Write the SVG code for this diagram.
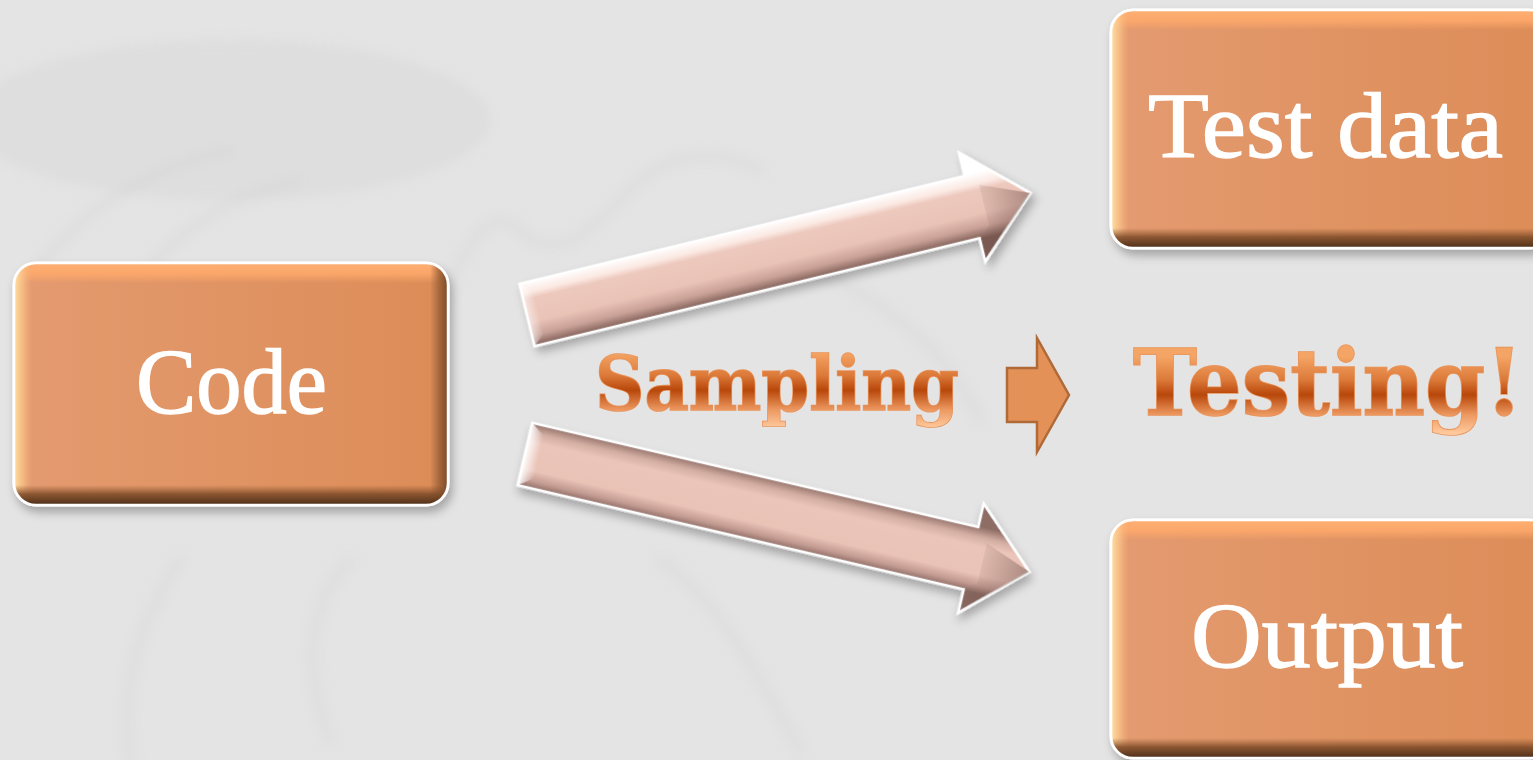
<svg xmlns="http://www.w3.org/2000/svg" width="1533" height="760" viewBox="0 0 1533 760">
  <style>
    .box-face { fill: url(#faceGrad); stroke: #ffffff; stroke-width: 3; }
    .box-label { font-family: "Liberation Serif", "Times New Roman", serif; font-size: 94px; fill: #ffffff; stroke: #ffffff; stroke-width: 1.4; }
    .big-word { font-family: "DejaVu Serif", "Liberation Serif", serif; font-weight: bold; stroke-width: 1.5; paint-order: stroke fill; }
    .arrow-body { stroke: #ffffff; stroke-width: 2.5; stroke-linejoin: miter; }
    .texture { fill: none; stroke: #d2d2d2; stroke-width: 9; stroke-linecap: round; opacity: 0.35; }
  </style>
  <defs>
    <!-- box face and bevel shading -->
    <linearGradient id="faceGrad" x1="0" y1="0" x2="1" y2="0">
      <stop offset="0" stop-color="#e49b70"/>
      <stop offset="1" stop-color="#dc8c57"/>
    </linearGradient>
    <linearGradient id="bevelTop" x1="0" y1="0" x2="0" y2="1">
      <stop offset="0" stop-color="#ffb073" stop-opacity="1"/>
      <stop offset="0.55" stop-color="#ffa96b" stop-opacity="0.85"/>
      <stop offset="1" stop-color="#ffa96b" stop-opacity="0"/>
    </linearGradient>
    <linearGradient id="bevelBottom" x1="0" y1="0" x2="0" y2="1">
      <stop offset="0" stop-color="#8a5530" stop-opacity="0"/>
      <stop offset="0.45" stop-color="#7c4a27" stop-opacity="0.85"/>
      <stop offset="1" stop-color="#4a2d18" stop-opacity="1"/>
    </linearGradient>
    <linearGradient id="bevelLeft" x1="0" y1="0" x2="1" y2="0">
      <stop offset="0" stop-color="#ffe2a6" stop-opacity="1"/>
      <stop offset="0.5" stop-color="#fcc68a" stop-opacity="0.7"/>
      <stop offset="1" stop-color="#f4b47c" stop-opacity="0"/>
    </linearGradient>
    <linearGradient id="bevelRight" x1="0" y1="0" x2="1" y2="0">
      <stop offset="0" stop-color="#9a5f35" stop-opacity="0"/>
      <stop offset="0.5" stop-color="#9a5f35" stop-opacity="0.8"/>
      <stop offset="1" stop-color="#7a4826" stop-opacity="1"/>
    </linearGradient>

    <clipPath id="clipCode"><rect x="14" y="263" width="434" height="242" rx="22"/></clipPath>
    <clipPath id="clipTest"><rect x="1111" y="10" width="440" height="238" rx="22"/></clipPath>
    <clipPath id="clipOut"><rect x="1111" y="520" width="440" height="238" rx="22"/></clipPath>

    <!-- 3D arrow shading (local coordinates, shaft spans y -32..32) -->
    <linearGradient id="arrowUpGrad" gradientUnits="userSpaceOnUse" x1="0" y1="-33" x2="0" y2="33">
      <stop offset="0" stop-color="#ffffff"/>
      <stop offset="0.17" stop-color="#fbe9e3"/>
      <stop offset="0.27" stop-color="#edc8bc"/>
      <stop offset="0.62" stop-color="#eac3b7"/>
      <stop offset="0.82" stop-color="#c9a197"/>
      <stop offset="1" stop-color="#7a5a52"/>
    </linearGradient>
    <linearGradient id="arrowDownGrad" gradientUnits="userSpaceOnUse" x1="0" y1="-33" x2="0" y2="33">
      <stop offset="0" stop-color="#8e6d65"/>
      <stop offset="0.16" stop-color="#d3ada2"/>
      <stop offset="0.3" stop-color="#ebc5b9"/>
      <stop offset="0.72" stop-color="#eac3b7"/>
      <stop offset="0.88" stop-color="#c29a91"/>
      <stop offset="1" stop-color="#86665e"/>
    </linearGradient>
    <linearGradient id="tailGlow" x1="0" y1="0" x2="1" y2="0">
      <stop offset="0" stop-color="#ffffff" stop-opacity="0.95"/>
      <stop offset="1" stop-color="#ffffff" stop-opacity="0"/>
    </linearGradient>
    <linearGradient id="headShade" x1="0" y1="0" x2="1" y2="0">
      <stop offset="0" stop-color="#6e4f48" stop-opacity="0"/>
      <stop offset="1" stop-color="#6e4f48" stop-opacity="0.5"/>
    </linearGradient>

    <!-- gradient lettering (local coordinates, baseline at y=0) -->
    <linearGradient id="wordGrad" gradientUnits="userSpaceOnUse" x1="0" y1="-52" x2="0" y2="16">
      <stop offset="0" stop-color="#f4a464"/>
      <stop offset="0.3" stop-color="#dc7a3a"/>
      <stop offset="0.5" stop-color="#b8470a"/>
      <stop offset="0.76" stop-color="#ec9860"/>
      <stop offset="1" stop-color="#ffc99c"/>
    </linearGradient>

    <filter id="shadow" x="-10%" y="-10%" width="125%" height="135%">
      <feDropShadow dx="3" dy="6" stdDeviation="5" flood-color="#000000" flood-opacity="0.28"/>
    </filter>
    <filter id="soft" x="-20%" y="-20%" width="140%" height="140%">
      <feGaussianBlur stdDeviation="6"/>
    </filter>
  </defs>

  <!-- backdrop -->
  <rect x="0" y="0" width="1533" height="760" fill="#e4e4e4"/>
  <g filter="url(#soft)">
    <ellipse cx="230" cy="120" rx="260" ry="80" fill="#d9d9d9" opacity="0.55"/>
    <path class="texture" d="M20 300 C60 220 140 170 230 150"/>
    <path class="texture" d="M110 330 C150 250 210 200 300 180"/>
    <path class="texture" d="M430 330 C460 250 490 200 520 230 C560 270 600 220 640 180 C680 150 720 150 760 170"/>
    <path class="texture" d="M130 760 C120 680 140 620 180 560"/>
    <path class="texture" d="M330 740 C300 660 310 600 350 560"/>
    <path class="texture" d="M660 560 C720 600 760 680 800 750"/>
    <path class="texture" d="M800 260 C880 300 940 340 980 420"/>
  </g>

  <!-- connectors -->
  <g id="connectors">
    <g id="arrow-to-testdata" transform="translate(527 315) rotate(-13.63)" filter="url(#shadow)">
      <polygon class="arrow-body" fill="url(#arrowUpGrad)" points="0,-32 458,-32 458,-56 518,0 458,56 458,32 0,32"/>
      <polygon fill="url(#tailGlow)" opacity="0.6" points="0,-32 12,-22 12,22 0,32"/>
      <polygon fill="url(#headShade)" points="470,-20 518,0 458,56 458,32 470,22"/>
    </g>
    <g id="arrow-to-output" transform="translate(525 454) rotate(13.15)" filter="url(#shadow)">
      <polygon class="arrow-body" fill="url(#arrowDownGrad)" points="0,-32 458,-32 458,-56 518,0 458,56 458,32 0,32"/>
      <polygon fill="url(#tailGlow)" points="0,-32 14,-22 14,22 0,32"/>
      <polygon fill="url(#headShade)" points="470,-18 518,0 458,56 458,32 470,22"/>
    </g>
    <polygon id="arrow-sampling" points="1007,368 1037,368 1037,338 1069,395 1037,452 1037,422 1007,422" fill="#e39157" stroke="#b06a38" stroke-width="2.5"/>
  </g>

  <!-- Code -->
  <g id="node-code">
    <rect class="box-face" x="14" y="263" width="434" height="242" rx="22" filter="url(#shadow)"/>
    <g clip-path="url(#clipCode)">
      <rect x="14" y="263" width="434" height="20" fill="url(#bevelTop)"/>
      <rect x="14" y="263" width="18" height="242" fill="url(#bevelLeft)"/>
      <rect x="430" y="263" width="18" height="242" fill="url(#bevelRight)"/>
      <rect x="14" y="485" width="434" height="20" fill="url(#bevelBottom)"/>
    </g>
    <rect x="14" y="263" width="434" height="242" rx="22" fill="none" stroke="#ffffff" stroke-width="2.5"/>
    <text class="box-label" x="136" y="413" textLength="191" lengthAdjust="spacingAndGlyphs">Code</text>
  </g>

  <!-- Test data -->
  <g id="node-testdata">
    <rect class="box-face" x="1111" y="10" width="440" height="238" rx="22" filter="url(#shadow)"/>
    <g clip-path="url(#clipTest)">
      <rect x="1111" y="10" width="440" height="20" fill="url(#bevelTop)"/>
      <rect x="1111" y="10" width="18" height="238" fill="url(#bevelLeft)"/>
      <rect x="1111" y="228" width="440" height="20" fill="url(#bevelBottom)"/>
    </g>
    <rect x="1111" y="10" width="440" height="238" rx="22" fill="none" stroke="#ffffff" stroke-width="2.5"/>
    <text class="box-label" x="1148" y="157" textLength="355" lengthAdjust="spacingAndGlyphs">Test data</text>
  </g>

  <!-- Output -->
  <g id="node-output">
    <rect class="box-face" x="1111" y="520" width="440" height="238" rx="22" filter="url(#shadow)"/>
    <g clip-path="url(#clipOut)">
      <rect x="1111" y="520" width="440" height="20" fill="url(#bevelTop)"/>
      <rect x="1111" y="520" width="18" height="238" fill="url(#bevelLeft)"/>
      <rect x="1111" y="738" width="440" height="20" fill="url(#bevelBottom)"/>
    </g>
    <rect x="1111" y="520" width="440" height="238" rx="22" fill="none" stroke="#ffffff" stroke-width="2.5"/>
    <text class="box-label" x="1191" y="667" textLength="272" lengthAdjust="spacingAndGlyphs">Output</text>
  </g>

  <!-- headline words: drawn at baseline 0, stretched vertically -->
  <g id="label-sampling" transform="translate(595 410) scale(1 1.1)">
    <text class="big-word" x="0" y="0" font-size="68" fill="url(#wordGrad)" stroke="#e8935a" textLength="364" lengthAdjust="spacingAndGlyphs">Sampling</text>
  </g>
  <g id="label-testing" transform="translate(1133 415) scale(1 1.12)">
    <text class="big-word" x="0" y="0" font-size="82" fill="url(#wordGrad)" stroke="#e8935a" textLength="390" lengthAdjust="spacingAndGlyphs" transform="scale(1 1)">Testing!</text>
  </g>
</svg>
